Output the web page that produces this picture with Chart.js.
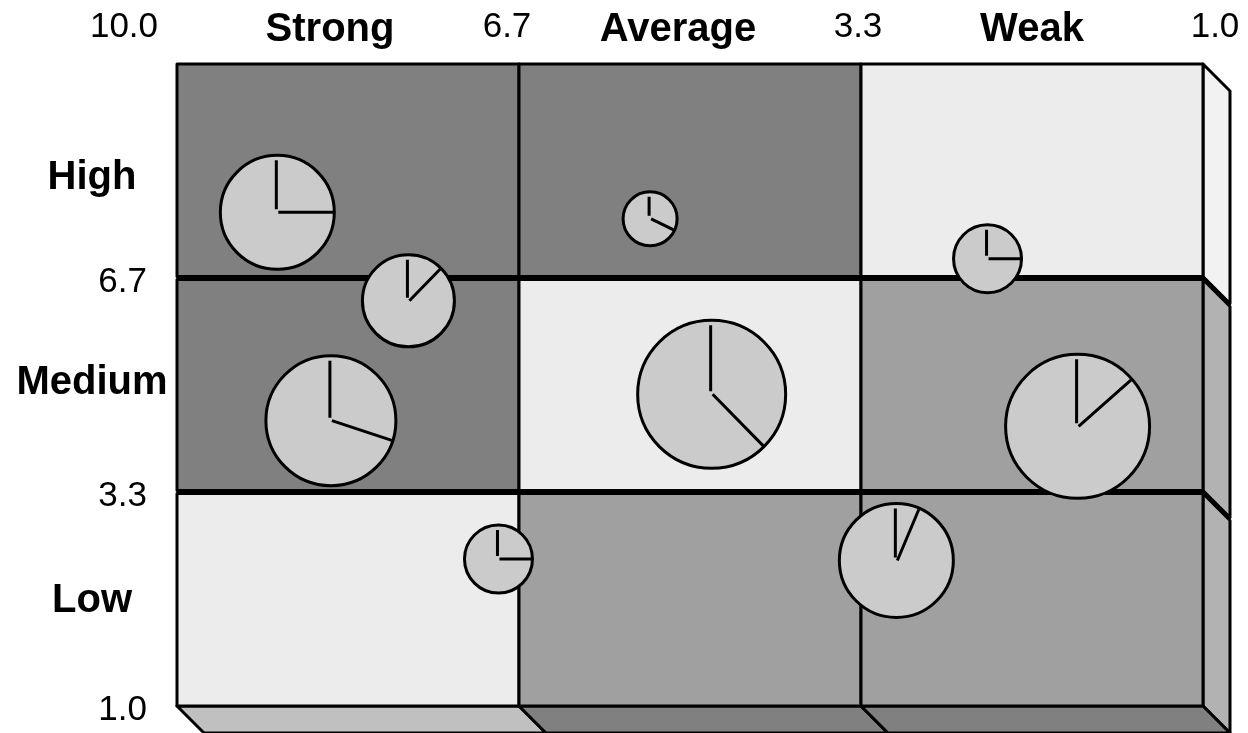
<!DOCTYPE html>
<html>
<head>
<meta charset="utf-8">
<script src="https://cdn.jsdelivr.net/npm/chart.js@4.4.1/dist/chart.umd.min.js"></script>
<style>
  html, body { margin: 0; padding: 0; background: #fff; }
  #wrap { width: 1248px; height: 733px; position: relative; }
</style>
</head>
<body>
<div id="wrap"><canvas id="matrix"></canvas></div>
<script>
// zone edges along both axes (value space), and the labels printed at them
const zoneEdges = [10, 7, 4, 1];
const zoneLabels = ['10.0', '6.7', '3.3', '1.0'];
const strengthNames = ['Strong', 'Average', 'Weak'];
const attractNames = ['High', 'Medium', 'Low'];

// business units: x = strength, y = attractiveness, size = bubble radius, share = slice %
const strength = [9.12, 7.97, 8.65, 5.85, 2.89, 5.31, 2.10, 7.18, 3.69];
const attractiveness = [7.92, 6.68, 5.00, 7.83, 7.27, 5.37, 4.92, 3.06, 3.04];
const bubbleSize = [57, 46, 65, 27, 34, 74, 72, 34, 57];
const sharePct = [25, 12.5, 30, 32, 25, 37.5, 13.6, 25, 6.6];

// cell shading, rows top -> bottom, columns left -> right
const cellColors = [
  ['#808080', '#808080', '#ececec'],
  ['#808080', '#ececec', '#a0a0a0'],
  ['#ececec', '#a0a0a0', '#a0a0a0']
];
const sideColors = ['#f2f2f2', '#b2b2b2', '#b2b2b2'];
const floorColors = ['#c0c0c0', '#808080', '#808080'];

const DEPTH = 27;
const FONT = "'Liberation Sans', Arial, sans-serif";

function poly(ctx, pts, fill) {
  ctx.beginPath();
  pts.forEach((p, i) => i ? ctx.lineTo(p[0], p[1]) : ctx.moveTo(p[0], p[1]));
  ctx.closePath();
  ctx.fillStyle = fill;
  ctx.fill();
  ctx.stroke();
}

const matrixPlugin = {
  id: 'matrix',
  beforeDatasetsDraw(chart) {
    const { ctx, scales: { x, y } } = chart;
    const xs = zoneEdges.map(v => x.getPixelForValue(v));
    const ys = zoneEdges.map(v => y.getPixelForValue(v));
    ctx.save();
    ctx.lineWidth = 3;
    ctx.strokeStyle = '#000';
    ctx.lineJoin = 'round';

    for (let r = 0; r < 3; r++) {
      const top = ys[r] + (r > 0 ? 1.5 : 0);
      const bot = ys[r + 1] - (r < 2 ? 1.5 : 0);
      const R = xs[3];
      // right side face
      poly(ctx, [[R, top], [R + DEPTH, top + DEPTH], [R + DEPTH, bot + DEPTH], [R, bot]], sideColors[r]);
      // floor face under the last row
      if (r === 2) {
        for (let c = 0; c < 3; c++) {
          poly(ctx, [[xs[c], bot], [xs[c + 1], bot], [xs[c + 1] + DEPTH, bot + DEPTH], [xs[c] + DEPTH, bot + DEPTH]], floorColors[c]);
        }
      }
      // front cells
      for (let c = 0; c < 3; c++) {
        poly(ctx, [[xs[c], top], [xs[c + 1], top], [xs[c + 1], bot], [xs[c], bot]], cellColors[r][c]);
      }
    }

    // labels
    ctx.fillStyle = '#000';
    ctx.textBaseline = 'middle';
    ctx.textAlign = 'center';
    ctx.font = '35px ' + FONT;
    const topOffsets = [-53, -12, -3, 12];
    zoneLabels.forEach((t, i) => ctx.fillText(t, xs[i] + topOffsets[i], 27));
    ctx.font = 'bold 40px ' + FONT;
    const titleOffsets = [-18, -12, 0];
    strengthNames.forEach((t, c) => ctx.fillText(t, (xs[c] + xs[c + 1]) / 2 + titleOffsets[c], 30));
    const rowOffsets = [7, -2, 2];
    attractNames.forEach((t, r) => ctx.fillText(t, 92, (ys[r] + ys[r + 1]) / 2 + rowOffsets[r]));
    ctx.textAlign = 'right';
    ctx.font = '35px ' + FONT;
    for (let i = 1; i < 4; i++) ctx.fillText(zoneLabels[i], 147, ys[i] + 4);
    ctx.restore();
  },
  afterDatasetsDraw(chart) {
    const { ctx } = chart;
    const meta = chart.getDatasetMeta(0);
    ctx.save();
    ctx.strokeStyle = '#000';
    ctx.lineWidth = 3;
    meta.data.forEach((el, i) => {
      const r = el.options.radius;
      const ang = -Math.PI / 2 + sharePct[i] / 100 * Math.PI * 2;
      ctx.beginPath();
      ctx.moveTo(el.x - 1, el.y - 3);
      ctx.lineTo(el.x - 1, el.y - r + 5);
      ctx.moveTo(el.x + 1, el.y);
      ctx.lineTo(el.x + (r - 1) * Math.cos(ang), el.y + (r - 1) * Math.sin(ang));
      ctx.stroke();
    });
    ctx.restore();
  }
};

new Chart(document.getElementById('matrix'), {
  type: 'bubble',
  data: {
    datasets: [{
      data: strength.map((v, i) => ({ x: v, y: attractiveness[i], r: bubbleSize[i] })),
      backgroundColor: '#cbcbcb',
      borderColor: '#000',
      borderWidth: 3,
      clip: false
    }]
  },
  options: {
    responsive: true,
    maintainAspectRatio: false,
    animation: false,
    events: [],
    layout: { autoPadding: false, padding: { left: 177, right: 45, top: 64, bottom: 27 } },
    scales: {
      x: { type: 'linear', min: 1, max: 10, reverse: true, display: false },
      y: { type: 'linear', min: 1, max: 10, display: false }
    },
    plugins: { legend: { display: false }, tooltip: { enabled: false } }
  },
  plugins: [matrixPlugin]
});
</script>
</body>
</html>
